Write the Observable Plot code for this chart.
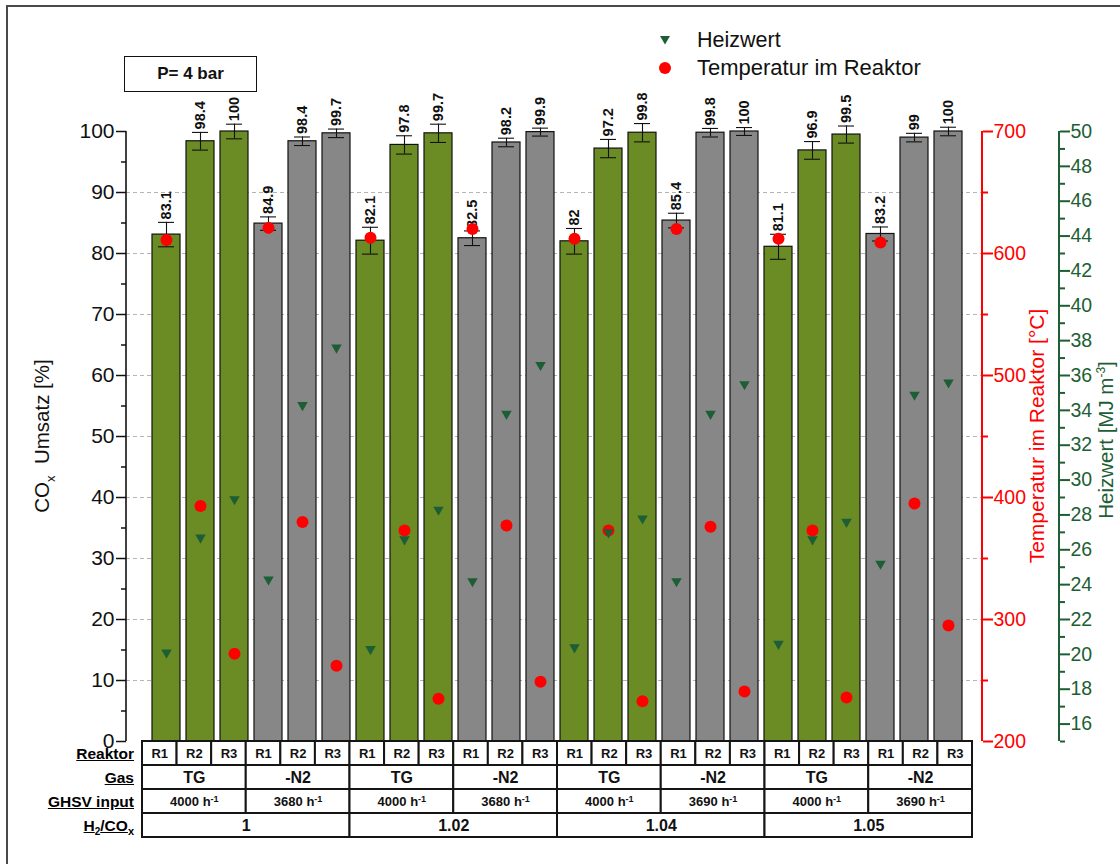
<!DOCTYPE html>
<html>
<head>
<meta charset="utf-8">
<script src="https://cdn.jsdelivr.net/npm/d3@7"></script>
<script src="https://cdn.jsdelivr.net/npm/@observablehq/plot@0.6"></script>
<style>
  body { margin: 0; background: #fff; font-family: "Liberation Sans", Arial, sans-serif; }
  #wrap { position: relative; width: 1120px; height: 864px; overflow: hidden; background: #fff; }
  #wrap > svg { position: absolute; left: 0; }
  .abs { position: absolute; white-space: nowrap; }
  .rot { transform: translate(-50%, -50%) rotate(-90deg); }
  .rowlab { font-weight: bold; font-size: 15.5px; text-decoration: underline; text-align: right; line-height: 16px; }
</style>
</head>
<body>
<div id="wrap"></div>
<script>
// ---------- data ----------
const reactors = ["R1", "R2", "R3"];
const gases = ["TG", "-N2", "TG", "-N2", "TG", "-N2", "TG", "-N2"];
const ghsv = ["4000 h^-1", "3680 h^-1", "4000 h^-1", "3680 h^-1", "4000 h^-1", "3690 h^-1", "4000 h^-1", "3690 h^-1"];
const ratios = ["1", "1.02", "1.04", "1.05"];
const tableRows = ["Reaktor", "Gas", "GHSV input", "H2/COx"];

const umsatz = [83.1, 98.4, 100, 84.9, 98.4, 99.7, 82.1, 97.8, 99.7, 82.5, 98.2, 99.9,
                82, 97.2, 99.8, 85.4, 99.8, 100, 81.1, 96.9, 99.5, 83.2, 99, 100];
const umsatzErr = [2.0, 1.45, 1.2, 1.1, 0.7, 0.7, 2.2, 1.5, 1.5, 1.2, 0.7, 0.65,
                   2.1, 1.5, 1.5, 1.2, 0.7, 0.65, 2.05, 1.45, 1.4, 1.15, 0.7, 0.7];
const temperatur = [611, 393, 272, 621, 380, 262, 613, 373, 235, 620, 377, 249,
                    612, 373, 233, 620, 376, 241, 612, 373, 236, 609, 395, 295];
const heizwert = [20.1, 26.7, 28.9, 24.3, 34.3, 37.6, 20.3, 26.6, 28.3, 24.2, 33.8, 36.6,
                  20.4, 27.0, 27.8, 24.2, 33.8, 35.5, 20.6, 26.6, 27.6, 25.2, 34.9, 35.6];

const umsatzTicks = d3.range(0, 101, 10);
const umsatzMinor = d3.range(5, 100, 10);
const tempTicks = [200, 300, 400, 500, 600, 700];
const tempMinor = [250, 350, 450, 550, 650];
const heizTicks = d3.range(16, 51, 2);
const heizMinor = d3.range(15, 50, 2);

// ---------- styles ----------
const FONT = "'Liberation Sans', Arial, sans-serif";
const BAR_GREEN = "#6b8c25";
const BAR_GRAY = "#878787";
const RED = "#ff0000";
const DKGREEN = "#1d5e34";

// secondary axes mapped onto the left (0–100 %) scale
const TEMP_DOMAIN = [200, 700];
const HEIZ_DOMAIN = [15, 50];
const tToY = t => (t - TEMP_DOMAIN[0]) / (TEMP_DOMAIN[1] - TEMP_DOMAIN[0]) * 100;
const yToT = y => TEMP_DOMAIN[0] + y / 100 * (TEMP_DOMAIN[1] - TEMP_DOMAIN[0]);
const hToY = h => (h - HEIZ_DOMAIN[0]) / (HEIZ_DOMAIN[1] - HEIZ_DOMAIN[0]) * 100;
const yToH = y => HEIZ_DOMAIN[0] + y / 100 * (HEIZ_DOMAIN[1] - HEIZ_DOMAIN[0]);

const ids = d3.range(umsatz.length);
const rows = ids.map(i => ({
  id: i, gas: gases[Math.floor(i / 3)], v: umsatz[i], e: umsatzErr[i], t: temperatur[i], h: heizwert[i]
}));

const X_RANGE = [142, 972];
const GREEN_AXIS_DX = 77;

function axisLines(index, scales, values, dims) {
  const g = d3.create("svg:g");
  const ya = scales.y(0), yb = scales.y(100);
  const xl = dims.marginLeft, xr = dims.width - dims.marginRight;
  const add = (x, c, w) => g.append("line").attr("x1", x).attr("x2", x).attr("y1", ya).attr("y2", yb)
    .attr("stroke", c).attr("stroke-width", w);
  add(xl, "#111", 1.6);
  add(xr, RED, 2);
  add(xr + GREEN_AXIS_DX, DKGREEN, 2);
  return g.node();
}

const main = Plot.plot({
  width: 1120, height: 745,
  marginTop: 131, marginBottom: 4, marginLeft: 126, marginRight: 138,
  style: { background: "transparent", fontFamily: FONT, overflow: "visible" },
  x: { type: "band", domain: ids, range: X_RANGE, paddingInner: 0.18, paddingOuter: 0.09, axis: null },
  y: { domain: [0, 100], range: [741, 131], axis: null },
  color: { domain: ["TG", "-N2"], range: [BAR_GREEN, BAR_GRAY] },
  marks: [
    Plot.ruleY(d3.range(10, 100, 10), { stroke: "#b4b4b4", strokeDasharray: "4,3", strokeWidth: 1 }),
    Plot.barY(rows, { x: "id", y: "v", fill: "gas", stroke: "#111", strokeWidth: 1.2 }),
    Plot.ruleX(rows, { x: "id", y1: d => d.v - d.e, y2: d => d.v + d.e, stroke: "#111", strokeWidth: 1.1 }),
    Plot.tickY(rows, { x: "id", y: d => d.v - d.e, insetLeft: 6, insetRight: 6, stroke: "#111", strokeWidth: 1.1 }),
    Plot.tickY(rows, { x: "id", y: d => d.v + d.e, insetLeft: 6, insetRight: 6, stroke: "#111", strokeWidth: 1.1 }),
    Plot.text(rows, { x: "id", y: d => d.v + d.e, text: d => String(d.v), rotate: -90, textAnchor: "start",
      dy: -3, fontSize: 14.5, fontWeight: "bold", fill: "#111" }),
    Plot.dot(rows, { x: "id", y: d => tToY(d.t), r: 6, fill: RED }),
    Plot.dot(rows, { x: "id", y: d => hToY(d.h), r: 3.9, symbol: "triangle", rotate: 180, fill: DKGREEN }),
    // left axis
    Plot.axisY({ anchor: "left", ticks: umsatzTicks, tickSize: 10, tickPadding: 2, fontSize: 21, label: null,
      strokeWidth: 1.5, color: "#111" }),
    Plot.axisY({ anchor: "left", ticks: umsatzMinor, tickSize: 5, tickFormat: () => "", label: null,
      strokeWidth: 1.5, color: "#111" }),
    // temperature axis
    Plot.axisY({ anchor: "right", ticks: tempTicks.map(tToY), tickFormat: y => String(Math.round(yToT(y))),
      tickSize: 10, tickPadding: 1, fontSize: 19.5, label: null, strokeWidth: 2, color: RED }),
    Plot.axisY({ anchor: "right", ticks: tempMinor.map(tToY), tickFormat: () => "",
      tickSize: 5, label: null, strokeWidth: 2, color: RED }),
    // heizwert axis
    Plot.axisY({ anchor: "right", dx: GREEN_AXIS_DX, ticks: heizTicks.map(hToY), tickFormat: y => String(Math.round(yToH(y))),
      tickSize: 10, tickPadding: 1, fontSize: 19.5, label: null, strokeWidth: 2, color: DKGREEN }),
    Plot.axisY({ anchor: "right", dx: GREEN_AXIS_DX, ticks: heizMinor.map(hToY), tickFormat: () => "",
      tickSize: 5, label: null, strokeWidth: 2, color: DKGREEN }),
    axisLines
  ]
});

// ---------- table ----------
const cells = [
  ...ids.map(i => ({ row: "Reaktor", x1: i, x2: i + 1, label: reactors[i % 3], size: 13 })),
  ...gases.map((g, k) => ({ row: "Gas", x1: 3 * k, x2: 3 * k + 3, label: g, size: 16 })),
  ...ghsv.map((g, k) => ({ row: "GHSV input", x1: 3 * k, x2: 3 * k + 3, label: g, size: 13 })),
  ...ratios.map((r, k) => ({ row: "H2/COx", x1: 6 * k, x2: 6 * k + 6, label: r, size: 16 }))
];

const TABLE_TOP = 738;
const table = Plot.plot({
  width: 1120, height: 104,
  marginTop: 2, marginBottom: 5, marginLeft: 142, marginRight: 148,
  style: { background: "transparent", fontFamily: FONT, overflow: "visible" },
  x: { domain: [0, ids.length], range: X_RANGE, axis: null },
  y: { type: "band", domain: tableRows, range: [2, 99], padding: 0, axis: null },
  marks: [
    Plot.barX(cells, { x1: "x1", x2: "x2", y: "row", fill: "white", stroke: "#151515", strokeWidth: 2 }),
    Plot.text(cells, { x: d => (d.x1 + d.x2) / 2, y: "row", text: "label", fontSize: "size",
      fontWeight: "bold", fill: "#111" })
  ]
});
// superscripts in the GHSV cells
d3.select(table).selectAll("text").each(function () {
  const t = this.textContent;
  if (t.includes("^")) {
    const [base, sup] = t.split("^");
    const sel = d3.select(this);
    sel.text(base);
    sel.append("tspan").attr("dy", "-0.45em").attr("font-size", "0.7em").text(sup);
  }
});

const wrap = document.getElementById("wrap");
main.style.top = "0px";
table.style.top = TABLE_TOP + "px";
wrap.appendChild(main);
wrap.appendChild(table);

// row labels of the table
const ys = table.scale("y");
const rowLabelHTML = {
  "Reaktor": "Reaktor",
  "Gas": "Gas",
  "GHSV input": "GHSV input",
  "H2/COx": "H<sub style='font-size:10px'>2</sub>/CO<sub style='font-size:11px'>x</sub>"
};
for (const r of tableRows) {
  const cy = TABLE_TOP + ys.apply(r) + ys.bandwidth / 2;
  const d = document.createElement("div");
  d.className = "abs rowlab";
  d.style.right = (1120 - 134) + "px";
  d.style.top = (cy - 7) + "px";
  d.innerHTML = rowLabelHTML[r];
  wrap.appendChild(d);
}

// frame, legend, titles, note
const extra = `
<div class="abs" style="left:6px;top:5px;width:1300px;height:1000px;border-top:2px solid #4a4a4a;border-left:2px solid #4a4a4a;"></div>
<div class="abs" style="left:124px;top:56px;width:131px;height:34px;border:1.5px solid #111;text-align:center;line-height:34px;font-weight:bold;font-size:17px;color:#111;">P= 4 bar</div>
<svg class="abs" style="left:657px;top:33px" width="16" height="14"><polygon points="3,3 13,3 8,11.5" fill="${DKGREEN}"/></svg>
<div class="abs" style="left:697px;top:27px;font-size:21.5px;line-height:26px;color:#111;">Heizwert</div>
<svg class="abs" style="left:657px;top:60px" width="16" height="16"><circle cx="8" cy="8" r="6" fill="${RED}"/></svg>
<div class="abs" style="left:697px;top:55px;font-size:22px;line-height:26px;color:#111;">Temperatur im Reaktor</div>
<div class="abs rot" style="left:44px;top:436px;font-size:20.5px;color:#111;">CO<sub style="font-size:13px">x</sub>&nbsp; Umsatz [%]</div>
<div class="abs rot" style="left:1037px;top:436px;font-size:21px;color:${RED};">Temperatur im Reaktor [°C]</div>
<div class="abs rot" style="left:1106px;top:440px;font-size:20.5px;color:${DKGREEN};">Heizwert [MJ m<sup style="font-size:12px">-3</sup>]</div>
`;
wrap.insertAdjacentHTML("beforeend", extra);
</script>
</body>
</html>
